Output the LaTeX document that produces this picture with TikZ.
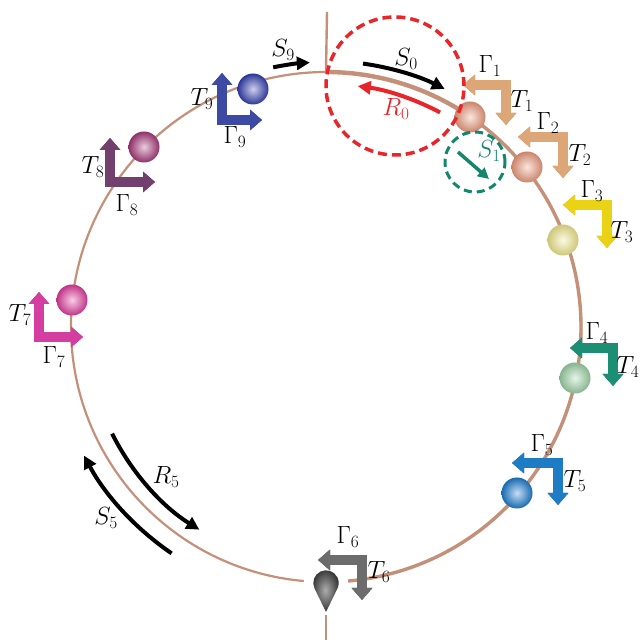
\documentclass[tikz,border=0pt]{standalone}
\usetikzlibrary{arrows.meta,calc}

\definecolor{ringc}{HTML}{C4907A}
\definecolor{redc}{HTML}{E8262A}
\definecolor{greenc}{HTML}{14866C}
% ball colours
\definecolor{bA}{HTML}{EE9C7E}
\definecolor{bB}{HTML}{F2EA8E}
\definecolor{bC}{HTML}{9ED4A8}
\definecolor{bD}{HTML}{1C7CD0}
\definecolor{bE}{HTML}{4A4A4A}
\definecolor{bF}{HTML}{E23C9E}
\definecolor{bG}{HTML}{A8387A}
\definecolor{bH}{HTML}{3440B2}
% bent-arrow colours (face / side)
\definecolor{aA}{HTML}{DCA676}\definecolor{dA}{HTML}{A87548}
\definecolor{aB}{HTML}{EAD214}\definecolor{dB}{HTML}{AE9C00}
\definecolor{aC}{HTML}{1C8E74}\definecolor{dC}{HTML}{0D5E4C}
\definecolor{aD}{HTML}{1E7CC4}\definecolor{dD}{HTML}{10508C}
\definecolor{aE}{HTML}{6C6C6C}\definecolor{dE}{HTML}{3E3E3E}
\definecolor{aF}{HTML}{D43EA0}\definecolor{dF}{HTML}{9E2070}
\definecolor{aG}{HTML}{72406E}\definecolor{dG}{HTML}{4A2448}
\definecolor{aH}{HTML}{3C4AA4}\definecolor{dH}{HTML}{222C6E}

\tikzset{
  ring/.style={draw=ringc},
  lbl/.style={font=\fontsize{23}{26}\selectfont, inner sep=0pt},
  flow/.style={line width=4pt, -{Triangle[length=13pt,width=13pt]}},
  ballnode/.style={circle, minimum size=31pt, inner sep=0pt,
    inner color=#1!25!white, outer color=#1!85!black},
  bendtip/.style={{Triangle[length=12pt,width=20pt]}-{Triangle[length=12pt,width=20pt]}},
}

% bent double arrow through three named points, drawn with a darker side
\newcommand\bentarrow[5]{%
  \draw[line width=9.5pt, bendtip, line join=miter, draw=#5, shift={(2pt,-2pt)}] (#1) -- (#2) -- (#3);
  \draw[line width=9.5pt, bendtip, line join=miter, draw=#4] (#1) -- (#2) -- (#3);
}

\begin{document}
\begin{tikzpicture}[x=1pt,y=1pt]
\useasboundingbox (0,0) rectangle (641,640);
\fill[white] (0,0) rectangle (641,640);

\coordinate (C) at (326,313);

% main ring, open at the bottom
\draw[ring, line width=2.2pt] ($(C)+(-85:255)$) arc[start angle=-85, end angle=265, radius=255];
\draw[ring, line width=3.4pt] ($(C)+(-85:255)$) arc[start angle=-85, end angle=54, radius=255];
\draw[ring, line width=4.4pt] ($(C)+(52:255)$) arc[start angle=52, end angle=90, radius=255];

% vertical stubs
\coordinate (topend) at (327,628);
\coordinate (topjoin) at ($(C)+(90:255)$);
\draw[ring, line width=2.4pt] (topend) -- (topjoin);
\coordinate (botend) at (326,0);
\coordinate (botjoin) at (326,25);
\draw[ring, line width=2.4pt] (botjoin) -- (botend);

% bent arrows
\coordinate (h1) at (463,555); \coordinate (c1) at (506,555); \coordinate (v1) at (506,515);
\coordinate (h2) at (518,503); \coordinate (c2) at (563,503); \coordinate (v2) at (563,462);
\coordinate (h3) at (563,435); \coordinate (c3) at (607,435); \coordinate (v3) at (607,392);
\coordinate (h4) at (570,292); \coordinate (c4) at (613,292); \coordinate (v4) at (613,254);
\coordinate (h5) at (512,177); \coordinate (c5) at (558,177); \coordinate (v5) at (558,135);
\coordinate (h6) at (318,80);  \coordinate (c6) at (362,80);  \coordinate (v6) at (362,40);
\coordinate (h7) at (83,303);  \coordinate (c7) at (39,303);  \coordinate (v7) at (39,348);
\coordinate (h8) at (155,458); \coordinate (c8) at (110,458); \coordinate (v8) at (110,502);
\coordinate (h9) at (262,520); \coordinate (c9) at (222,520); \coordinate (v9) at (222,567);

\bentarrow{h1}{c1}{v1}{aA}{dA}
\bentarrow{h2}{c2}{v2}{aA}{dA}
\bentarrow{h3}{c3}{v3}{aB}{dB}
\bentarrow{h4}{c4}{v4}{aC}{dC}
\bentarrow{h5}{c5}{v5}{aD}{dD}
\bentarrow{h6}{c6}{v6}{aE}{dE}
\bentarrow{h7}{c7}{v7}{aF}{dF}
\bentarrow{h8}{c8}{v8}{aG}{dG}
\bentarrow{h9}{c9}{v9}{aH}{dH}

% spheres
\node[ballnode=bA] (b1) at (470,523) {};
\node[ballnode=bA] (b2) at (527,473) {};
\node[ballnode=bB] (b3) at (563,400) {};
\node[ballnode=bC] (b4) at (575,262) {};
\node[ballnode=bD] (b5) at (517,147) {};
\node[ballnode=bF] (b7) at (72,340) {};
\node[ballnode=bG] (b8) at (144,493) {};
\node[ballnode=bH] (b9) at (253,551) {};
% drop-shaped sphere at the bottom gap
\coordinate (b6) at (326,57);
\shade[inner color=bE!45!white, outer color=bE!70!black]
  (326,28) -- ($(b6)+(206:12.7)$) arc[start angle=206, end angle=-26, radius=12.7] -- cycle;

% labels of the bent arrows
\node[lbl] (g1) at (490,574) {$\Gamma_1$};
\node[lbl] (t1) at (522,539) {$T_1$};
\node[lbl] (g2) at (548,517) {$\Gamma_2$};
\node[lbl] (t2) at (580,485) {$T_2$};
\node[lbl] (g3) at (592,449) {$\Gamma_3$};
\node[lbl] (t3) at (622,408) {$T_3$};
\node[lbl] (g4) at (597,307) {$\Gamma_4$};
\node[lbl] (t4) at (628,273) {$T_4$};
\node[lbl] (g5) at (542,195) {$\Gamma_5$};
\node[lbl] (t5) at (575,159) {$T_5$};
\node[lbl] (g6) at (348,103) {$\Gamma_6$};
\node[lbl] (t6) at (379,68)  {$T_6$};
\node[lbl] (t7) at (20,325)  {$T_7$};
\node[lbl] (g7) at (54,283)  {$\Gamma_7$};
\node[lbl] (t8) at (93,473)  {$T_8$};
\node[lbl] (g8) at (127,435) {$\Gamma_8$};
\node[lbl] (t9) at (202,541) {$T_9$};
\node[lbl] (g9) at (235,503) {$\Gamma_9$};

% curved flow arrows along the ring
\coordinate (s9a) at ($(C)+(101.5:265)$);
\draw[flow] (s9a) arc[start angle=101.5, end angle=93.5, radius=265];
\coordinate (s0a) at ($(C)+(82:266)$);
\draw[flow] (s0a) arc[start angle=82, end angle=63.5, radius=266];
\coordinate (r0a) at ($(C)+(62:243)$);
\draw[flow, redc] (r0a) arc[start angle=62, end angle=82.5, radius=243];
\coordinate (s5a) at ($(C)+(235.7:274)$);
\draw[flow] (s5a) arc[start angle=235.7, end angle=208, radius=274];
\coordinate (r5a) at ($(C)+(206.5:239)$);
\draw[flow] (r5a) arc[start angle=206.5, end angle=238, radius=239];

\node[lbl] (S9) at (283,590) {$S_9$};
\node[lbl] (S0) at (406,581) {$S_0$};
\node[lbl, text=redc] (R0) at (396,531) {$R_0$};
\node[lbl] (R5) at (166,163) {$R_5$};
\node[lbl] (S5) at (106,122) {$S_5$};

% dashed regions
\coordinate (rc) at (395,554);
\draw[redc, line width=3.5pt, dash pattern=on 9pt off 5pt] (rc) circle[radius=69];
\coordinate (gc) at (475,478);
\draw[greenc, line width=3pt, dash pattern=on 8pt off 5pt] (gc) circle[radius=30];
\coordinate (s1a) at (458,488);
\coordinate (s1b) at (489,461);
\draw[greenc, line width=3.5pt, -{Triangle[length=11pt,width=11pt]}] (s1a) -- (s1b);
\node[lbl, text=greenc] (S1) at (489,489) {$S_1$};
\end{tikzpicture}
\end{document}
